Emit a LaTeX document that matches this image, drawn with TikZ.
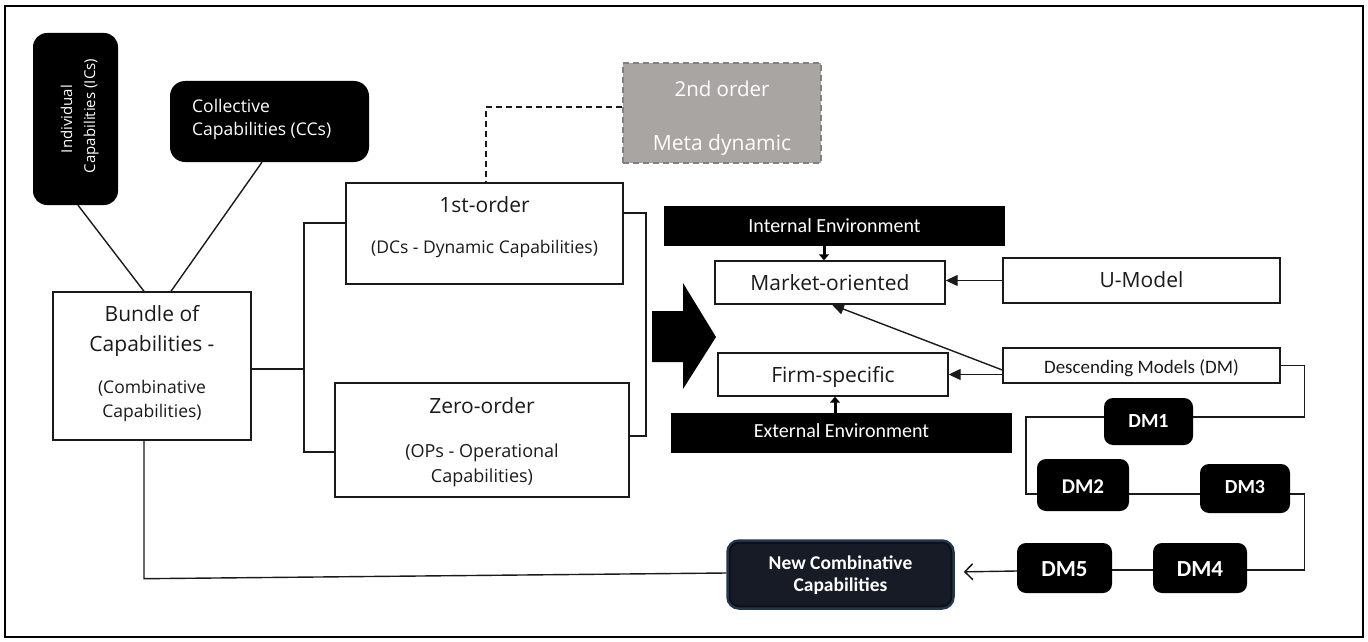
\documentclass[tikz,border=0pt]{standalone}
\usepackage{fontspec}
\setmainfont{Open Sans}
\newfontfamily\calib{Carlito}
\usetikzlibrary{arrows.meta}

\definecolor{ink}{HTML}{1A1A1A}
\definecolor{metafill}{HTML}{A9A5A2}
\definecolor{metaedge}{HTML}{808080}
\definecolor{nccfill}{HTML}{161B25}
\definecolor{nccedge}{HTML}{22374F}
\definecolor{nccrim}{HTML}{0C1119}

\newcommand{\fs}[1]{\fontsize{#1}{#1}\selectfont}

\tikzset{
  box/.style={draw=ink, line width=1.4pt, fill=white, inner sep=0pt},
  blkbox/.style={fill=black, rounded corners=#1, inner sep=0pt},
  blkbox/.default=12pt,
  barbox/.style={fill=black, inner sep=0pt},
  lbl/.style={inner sep=0pt, anchor=base, text=ink},
  wlbl/.style={inner sep=0pt, anchor=base, text=white},
  wire/.style={draw=ink, line width=1.4pt},
  tip/.style={wire, -{Triangle[length=12pt,width=11pt]}},
  stub/.style={draw=black, line width=3pt, -{Triangle[length=6pt,width=10pt]}},
  opentip/.style={wire, -{Straight Barb[length=8pt,width=16pt,line width=1.5pt]}},
}

\begin{document}
\begin{tikzpicture}[x=1pt,y=-1pt]
\useasboundingbox (0,0) rectangle (1368,642);
\draw[line width=2.2pt] (5,6) rectangle (1363,637);

% --- capability sources ---
\node[blkbox=14pt, minimum width=85, minimum height=172] (ics) at (75.5,119) {};
\node[wlbl, rotate=90, font=\fs{15}] (icsa) at (72,119) {Individual};
\node[wlbl, rotate=90, font=\fs{15}] (icsb) at (95,116) {Capabilities (ICs)};

\node[blkbox=15pt, minimum width=199, minimum height=81] (ccs) at (269.5,121.5) {};
\node[wlbl, anchor=base west, font=\fs{17.5}] (ccsa) at (192,112) {Collective};
\node[wlbl, anchor=base west, font=\fs{17.5}] (ccsb) at (192,135) {Capabilities (CCs)};

% --- bundle ---
\node[box, minimum width=198, minimum height=148] (bundle) at (152,366) {};
\node[lbl, font=\fs{21}] (bunda) at (152,321) {Bundle of};
\node[lbl, font=\fs{21}] (bundb) at (152,351) {Capabilities -};
\node[lbl, font=\fs{17.5}] (bundc) at (152,393) {(Combinative};
\node[lbl, font=\fs{17.5}] (bundd) at (152,417) {Capabilities)};

% --- orders ---
\node[draw=metaedge, dash pattern=on 6pt off 4pt, line width=2pt, fill=metafill,
      minimum width=198, minimum height=100, inner sep=0pt] (second) at (722,113) {};
\node[wlbl, font=\fs{20.5}] (seca) at (722,96) {2nd order};
\node[wlbl, font=\fs{21}] (secb) at (722,150) {Meta dynamic};

\node[box, minimum width=277, minimum height=101] (first) at (484.5,233.5) {};
\node[lbl, font=\fs{21}] (firsta) at (484.5,212) {1st-order};
\node[lbl, font=\fs{17.5}] (firstb) at (484.5,253) {(DCs - Dynamic Capabilities)};

\node[box, minimum width=294, minimum height=114] (zero) at (482,440) {};
\node[lbl, font=\fs{21}] (zeroa) at (482,413) {Zero-order};
\node[lbl, font=\fs{18}] (zerob) at (482,457) {(OPs - Operational};
\node[lbl, font=\fs{18}] (zeroc) at (482,482) {Capabilities)};

% --- environments and orientations ---
\node[barbox, minimum width=341, minimum height=40] (intenv) at (834.5,226) {};
\node[wlbl, font=\calib\fs{20}] (intenvt) at (834.5,232) {Internal Environment};

\node[box, minimum width=230, minimum height=43] (mo) at (830,282.5) {};
\node[lbl, font=\fs{21}] (mot) at (830,290) {Market-oriented};

\node[box, minimum width=277, minimum height=45] (um) at (1141.5,280.5) {};
\node[lbl, font=\fs{21}] (umt) at (1141.5,287) {U-Model};

\node[box, minimum width=230, minimum height=43] (fsp) at (833,374.5) {};
\node[lbl, font=\fs{21}] (fspt) at (833,382) {Firm-specific};

\node[box, minimum width=277, minimum height=35] (dm) at (1141.5,365.5) {};
\node[lbl, font=\calib\fs{19}] (dmt) at (1141.5,373) {Descending Models (DM)};

\node[barbox, minimum width=341, minimum height=40] (extenv) at (841.5,433) {};
\node[wlbl, font=\calib\fs{20}] (extenvt) at (841.5,437) {External Environment};

% --- descending models chain ---
\node[blkbox=9pt, minimum width=89, minimum height=47] (dm1) at (1148.5,421.5) {};
\node[wlbl, font=\calib\bfseries\fs{20}] (dm1t) at (1148.5,427) {DM1};
\node[blkbox=9pt, minimum width=92, minimum height=52] (dm2) at (1083,485) {};
\node[wlbl, font=\calib\bfseries\fs{21}] (dm2t) at (1083,493) {DM2};
\node[blkbox=9pt, minimum width=90, minimum height=49] (dm3) at (1245,488.5) {};
\node[wlbl, font=\calib\bfseries\fs{20}] (dm3t) at (1245,493) {DM3};
\node[blkbox=9pt, minimum width=94, minimum height=50] (dm4) at (1200,568) {};
\node[wlbl, font=\calib\bfseries\fs{23}] (dm4t) at (1200,576) {DM4};
\node[blkbox=9pt, minimum width=95, minimum height=50] (dm5) at (1064.5,568) {};
\node[wlbl, font=\calib\bfseries\fs{23}] (dm5t) at (1064.5,576) {DM5};

% new combinative capabilities: dark panel with a dark bluish rim
\node[fill=nccfill, draw=nccedge, line width=3.5pt, rounded corners=11pt,
      minimum width=225, minimum height=67, inner sep=0pt] (ncc) at (840.5,574.5) {};
\draw[nccrim, line width=2pt, rounded corners=9pt]
  ([xshift=3.5pt,yshift=3.5pt]ncc.south west) rectangle ([xshift=-3.5pt,yshift=-3.5pt]ncc.north east);
\node[wlbl, font=\calib\bfseries\fs{19.5}] (ncca) at (840.5,569) {New Combinative};
\node[wlbl, font=\calib\bfseries\fs{19.5}] (nccb) at (840.5,591) {Capabilities};

% --- block arrow ---
\fill (652,311) -- (683,311) -- (683,283) -- (716,337) -- (683,389) -- (683,362) -- (652,362) -- cycle;

% --- connectors (shifts are in page units: negative yshift moves down) ---
\draw[wire] ([xshift=2.5]ics.south) -- ([xshift=-8]bundle.north);
\draw[wire] ([xshift=-7.5]ccs.south) -- ([xshift=19]bundle.north);

\coordinate (lbt) at (304,223);
\coordinate (lbb) at (304,452);
\draw[wire] ([yshift=-3]bundle.east) -- ([yshift=-3]bundle.east -| lbt);
\draw[wire] (first.west |- lbt) -- (lbt) -- (lbb) -- (zero.west |- lbb);

\coordinate (rbt) at (646,213);
\coordinate (rbb) at (646,436);
\draw[wire] (first.east |- rbt) -- (rbt) -- (rbb) -- (zero.east |- rbb);

\coordinate (dk) at (486,107);
\draw[ink, line width=1.4pt, dash pattern=on 6pt off 4pt] (second.west |- dk) -- (dk) -- (dk |- first.north);

\draw[stub] ([xshift=-10.5]intenv.south) -- ([xshift=-6]mo.north);
\draw[stub] ([xshift=-6.5]extenv.north) -- ([xshift=2]fsp.south);
\draw[tip] (um.west) -- (um.west -| mo.east);
\draw[tip] ([yshift=-4.5]dm.west) -- ([xshift=2]mo.south);
\draw[tip] (dm.west |- fsp.east) -- (fsp.east);

\draw[wire] (dm.east) -- ++(24,0) |- ([yshift=4.5]dm1.east);
\draw[wire] ([yshift=4.5]dm1.west) -- ++(-78,0) |- ([yshift=-9]dm2.west);
\draw[wire] ([yshift=-9]dm2.east) -- ([yshift=-5.5]dm3.west);
\draw[wire] ([yshift=-5.5]dm3.east) -- ++(14,0) |- ([yshift=-2]dm4.east);
\draw[wire] ([yshift=-2]dm4.west) -- ([yshift=-2]dm5.east);
\draw[opentip, shorten >=9pt] ([yshift=-3]dm5.west) -- ([yshift=2.5]ncc.east);
\draw[wire] ([xshift=-8]bundle.south) -- ++(0,138) -- ([yshift=1.5]ncc.west);
\end{tikzpicture}
\end{document}
